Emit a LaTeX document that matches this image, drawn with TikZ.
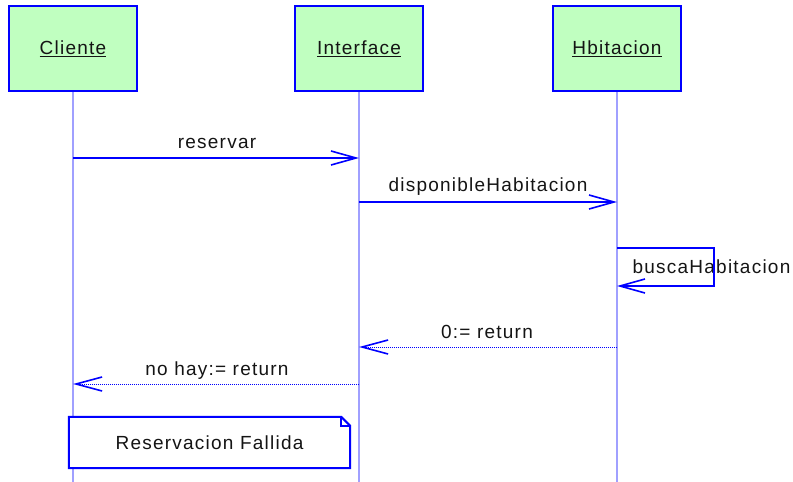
\documentclass[tikz,border=0pt]{standalone}
\usepackage{fontspec}
\setmainfont{Liberation Sans}[LetterSpace=6.5]
\usetikzlibrary{arrows.meta}
\definecolor{umlblue}{RGB}{0,0,255}
\definecolor{lifeblue}{RGB}{160,160,255}
\definecolor{objgreen}{RGB}{192,255,192}
\definecolor{txt}{RGB}{20,20,20}
\begin{document}
\begin{tikzpicture}[x=1pt,y=-1pt,
  font=\fontsize{19}{21}\selectfont,
  obj/.style={draw=umlblue, line width=2.2pt, fill=objgreen, minimum width=128pt, minimum height=85pt, inner sep=0pt, text=txt},
  life/.style={draw=lifeblue, line width=1.2pt},
  msg/.style={draw=umlblue, line width=1.5pt, -{Straight Barb[length=25pt,width=14pt,line width=1.6pt]}},
  ret/.style={draw=umlblue, line width=1pt, dash pattern=on 1pt off 1pt, -{Straight Barb[length=26pt,width=14pt,line width=1.6pt]}},
  lbl/.style={inner sep=0pt, text=txt},
  notebox/.style={inner sep=0pt, minimum width=281pt, minimum height=51pt}]
\useasboundingbox (0,0) rectangle (793,482);
% objects
\node[obj] (cl) at (73,48.5) {\underline{Cliente}};
\node[obj] (in) at (359,48.5) {\underline{Interface}};
\node[obj] (hb) at (617,48.5) {\underline{Hbitacion}};
% lifeline ends
\coordinate (clend) at (73,482);
\coordinate (inend) at (359,482);
\coordinate (hbend) at (617,482);
\draw[life] (cl.south) -- (clend);
\draw[life] (in.south) -- (inend);
\draw[life] (hb.south) -- (hbend);
% message points
\coordinate (c1) at (73,158);
\coordinate (i1) at (359,158);
\coordinate (i2) at (359,202);
\coordinate (h2) at (617,202);
\coordinate (h3) at (617,248);
\coordinate (h3b) at (617,286);
\coordinate (h4) at (617,347);
\coordinate (i4) at (359,347);
\coordinate (i5) at (359,384);
\coordinate (c5) at (73,384);
% messages
\draw[msg] (c1) -- (i1);
\node[lbl] (l1) at (217,143) {reservar};
\draw[msg] (i2) -- (h2);
\node[lbl] (l2) at (488,187) {disponibleHabitacion};
\node[lbl] (l3) at (711.5,267) {buscaHabitacion};
\draw[msg] (h3) -- ++(97,0) |- (h3b);
\draw[ret] (h4) -- (i4);
\node[lbl] (l4) at (487,332) {0:= return};
\draw[ret] (i5) -- (c5);
\node[lbl] (l5) at (217,371) {no hay:= return};
% note
\node[notebox] (note) at (209.5,442.5) {};
\draw[umlblue, fill=white, line width=2pt, line join=miter] (note.south west) -- (note.north west) -- ([xshift=-9pt]note.north east) -- ([yshift=-9pt]note.north east) -- (note.south east) -- cycle;
\draw[umlblue, line width=1.5pt] ([xshift=-9pt]note.north east) -- ([xshift=-9pt,yshift=-9pt]note.north east) -- ([yshift=-9pt]note.north east);
\node[lbl] (notetext) at (note.center) {Reservacion Fallida};
\end{tikzpicture}
\end{document}
